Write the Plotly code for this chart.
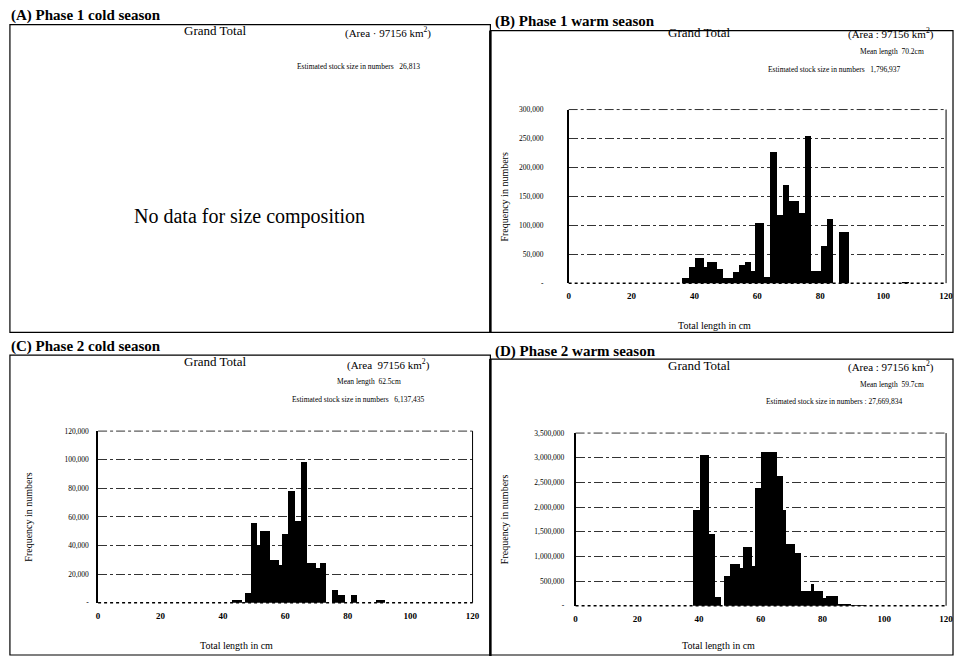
import plotly.graph_objects as go

W, H = 961, 661

# ---------------- data (bin start in cm, frequency in numbers) ----------------
b_len = [36, 37, 38, 39, 40, 41, 42, 43, 44, 45, 46, 47, 48, 49, 50, 51, 52, 53, 54, 55,
         56, 57, 58, 59, 60, 61, 62, 63, 64, 65, 66, 67, 68, 69, 70, 71, 72, 73, 74, 75,
         76, 77, 78, 79, 80, 81, 82, 83, 84, 85, 86, 87, 88, 106, 107]
b_cnt = [9000, 9000, 28000, 28000, 45000, 45000, 45000, 28000, 37000, 37000, 37000, 26000,
         26000, 9000, 9000, 9000, 20000, 20000, 32000, 32000, 37000, 37000, 22000, 105000,
         105000, 105000, 12000, 12000, 227000, 227000, 118000, 118000, 170000, 170000,
         143000, 143000, 143000, 122000, 122000, 255000, 255000, 22000, 22000, 22000,
         65000, 65000, 111000, 111000, 0, 0, 90000, 90000, 90000, 3000, 3000]

c_len = [43, 44, 45, 47, 48, 49, 50, 51, 52, 53, 54, 55, 56, 57, 58, 59, 60, 61, 62, 63,
         64, 65, 66, 67, 68, 69, 70, 71, 72, 75, 76, 77, 78, 81, 82, 89, 90, 91]
c_cnt = [2000, 2000, 2000, 7000, 7000, 56000, 56000, 40000, 50000, 50000, 50000, 30000,
         30000, 30000, 26000, 48000, 48000, 78000, 78000, 57000, 57000, 98000, 98000,
         28000, 28000, 28000, 24000, 28000, 28000, 9000, 9000, 5000, 5000, 5500, 5500,
         1500, 1500, 1500]

d_len = [38, 39, 40, 41, 42, 43, 44, 45, 46, 48, 49, 50, 51, 52, 53, 54, 55, 56, 57, 58,
         59, 60, 61, 62, 63, 64, 65, 66, 67, 68, 69, 70, 71, 72, 73, 74, 75, 76, 77, 78,
         79, 80, 81, 82, 83, 84, 85, 86, 87, 88, 89, 90, 91, 92, 93]
d_cnt = [1930000, 1930000, 3050000, 3050000, 3050000, 1460000, 1460000, 165000, 165000,
         600000, 600000, 850000, 850000, 850000, 765000, 1180000, 1180000, 1180000,
         800000, 2390000, 2390000, 3120000, 3120000, 3120000, 3120000, 3120000, 2620000,
         2620000, 1930000, 1250000, 1250000, 1250000, 1060000, 1060000, 300000, 300000,
         300000, 430000, 300000, 300000, 300000, 150000, 200000, 200000, 200000, 200000,
         35000, 35000, 15000, 15000, 6000, 6000, 4000, 3000, 2000]

x_ticks = [0, 20, 40, 60, 80, 100, 120]
b_yticks = [0, 50000, 100000, 150000, 200000, 250000, 300000]
b_ytext = ["-", "50,000", "100,000", "150,000", "200,000", "250,000", "300,000"]
c_yticks = [0, 20000, 40000, 60000, 80000, 100000, 120000]
c_ytext = ["-", "20,000", "40,000", "60,000", "80,000", "100,000", "120,000"]
d_yticks = [0, 500000, 1000000, 1500000, 2000000, 2500000, 3000000, 3500000]
d_ytext = ["-", "500,000", "1,000,000", "1,500,000", "2,000,000", "2,500,000",
           "3,000,000", "3,500,000"]

SERIF = "Liberation Serif"


def px(x):
    return x / W


def py(y):
    return 1 - y / H


fig = go.Figure()
for name, lens, cnts, xa, ya in [("B", b_len, b_cnt, "x", "y"),
                                 ("C", c_len, c_cnt, "x2", "y2"),
                                 ("D", d_len, d_cnt, "x3", "y3")]:
    fig.add_trace(go.Bar(x=[v + 0.5 for v in lens], y=cnts, width=1,
                         marker=dict(color="black", line=dict(width=0)),
                         xaxis=xa, yaxis=ya, showlegend=False, name=name))


def xax(x0, x1, anchor):
    return dict(domain=[px(x0), px(x1)], range=[0, 120], anchor=anchor,
                tickvals=x_ticks, showgrid=False, zeroline=False, showline=False,
                ticks="", ticklabelstandoff=6,
                tickfont=dict(family=SERIF, size=9, color="black", weight="bold"),
                fixedrange=True)


def yax(y0, y1, anchor, rng, tv, tt, standoff):
    return dict(domain=[py(y1), py(y0)], range=rng, anchor=anchor,
                tickvals=tv, ticktext=tt, showgrid=True, gridcolor="#333",
                griddash="dashdot", gridwidth=1, zeroline=False,
                showline=True, linecolor="black", linewidth=1.5, ticks="",
                ticklabelstandoff=standoff,
                tickfont=dict(family=SERIF, size=7.5, color="black"), fixedrange=True)


fig.update_layout(
    width=W, height=H, margin=dict(l=0, r=0, t=0, b=0),
    paper_bgcolor="white", plot_bgcolor="white", bargap=0,
    xaxis=xax(572, 953, "y"),
    yaxis=yax(107, 283, "x", [0, 300000], b_yticks, b_ytext, 22),
    xaxis2=xax(97, 475, "y2"),
    yaxis2=yax(433, 607, "x2", [0, 120000], c_yticks, c_ytext, 6),
    xaxis3=xax(579, 953, "y3"),
    yaxis3=yax(435, 610, "x3", [0, 3500000], d_yticks, d_ytext, 8),
)

shapes = []
# plot-area bottom (dotted), top gridline (dash-dot) and right border
for xa in ["x", "x2", "x3"]:
    ya = "y" + xa[1:]
    shapes.append(dict(type="line", xref=xa + " domain", yref=ya + " domain",
                       x0=0, x1=1, y0=0, y1=0, line=dict(color="black", width=1.5, dash="dot")))
    shapes.append(dict(type="line", xref=xa + " domain", yref=ya + " domain",
                       x0=0, x1=1, y0=1, y1=1, line=dict(color="#333", width=1, dash="dashdot")))
    shapes.append(dict(type="line", xref=xa + " domain", yref=ya + " domain",
                       x0=1, x1=1, y0=0, y1=1, line=dict(color="black", width=1)))
# panel boxes
for (x0, y0, x1, y1) in [(8, 21, 493, 333), (493, 27, 960, 333),
                         (8, 356, 493, 660), (493, 360, 960, 660)]:
    shapes.append(dict(type="rect", xref="paper", yref="paper",
                       x0=px(x0), x1=px(x1), y0=py(y1), y1=py(y0),
                       line=dict(color="black", width=1.2)))
shapes.append(dict(type="line", xref="paper", yref="paper", x0=px(493), x1=px(493),
                   y0=py(333), y1=py(27), line=dict(color="black", width=2.5)))
shapes.append(dict(type="line", xref="paper", yref="paper", x0=px(493), x1=px(493),
                   y0=py(661), y1=py(360), line=dict(color="black", width=2.5)))
fig.update_layout(shapes=shapes)

anns = []


def ann(text, x, y, size, xanchor="center", bold=False, angle=0):
    anns.append(dict(text=("<b>%s</b>" % text) if bold else text, x=px(x), y=py(y),
                     xref="paper", yref="paper", xanchor=xanchor, yanchor="middle",
                     showarrow=False, textangle=angle,
                     font=dict(family=SERIF, size=size, color="black")))


# panel titles
ann("(A) Phase 1 cold season", 7, 12, 15, "left", True)
ann("(B) Phase 1 warm season", 496, 18, 15, "left", True)
ann("(C) Phase 2 cold season", 7, 347, 15, "left", True)
ann("(D) Phase 2 warm season", 496, 352, 15, "left", True)

# panel A
ann("Grand Total", 215, 27, 13)
ann("(Area · 97156 km<sup>2</sup>)", 390, 29, 11)
ann("Estimated stock size in numbers   26,813", 360, 63, 7.5)
ann("No data for size composition", 250, 215, 20)

# panel B
ann("Grand Total", 704, 29, 13)
ann("(Area : 97156 km<sup>2</sup>)", 897, 30, 11)
ann("Mean length  70.2cm", 898, 48, 7.5)
ann("Estimated stock size in numbers   1,796,937", 840, 66, 7.5)
ann("Frequency in numbers", 507, 195, 10, angle=-90)
ann("Total length in cm", 719, 326, 10)

# panel C
ann("Grand Total", 215, 362, 13)
ann("(Area  97156 km<sup>2</sup>)", 390, 365, 11)
ann("Mean length  62.5cm", 370, 383, 7.5)
ann("Estimated stock size in numbers   6,137,435", 360, 401, 7.5)
ann("Frequency in numbers", 27, 520, 10, angle=-90)
ann("Total length in cm", 237, 650, 10)

# panel D
ann("Grand Total", 704, 366, 13)
ann("(Area : 97156 km<sup>2</sup>)", 897, 367, 11)
ann("Mean length  59.7cm", 898, 386, 7.5)
ann("Estimated stock size in numbers : 27,669,834", 840, 403, 7.5)
ann("Frequency in numbers", 508, 522, 10, angle=-90)
ann("Total length in cm", 723, 650, 10)

fig.update_layout(annotations=anns)
fig.write_html(
    "out.html",
    config={"displayModeBar": False},
    post_script="document.body.style.margin='0';document.body.style.overflow='hidden';",
)
